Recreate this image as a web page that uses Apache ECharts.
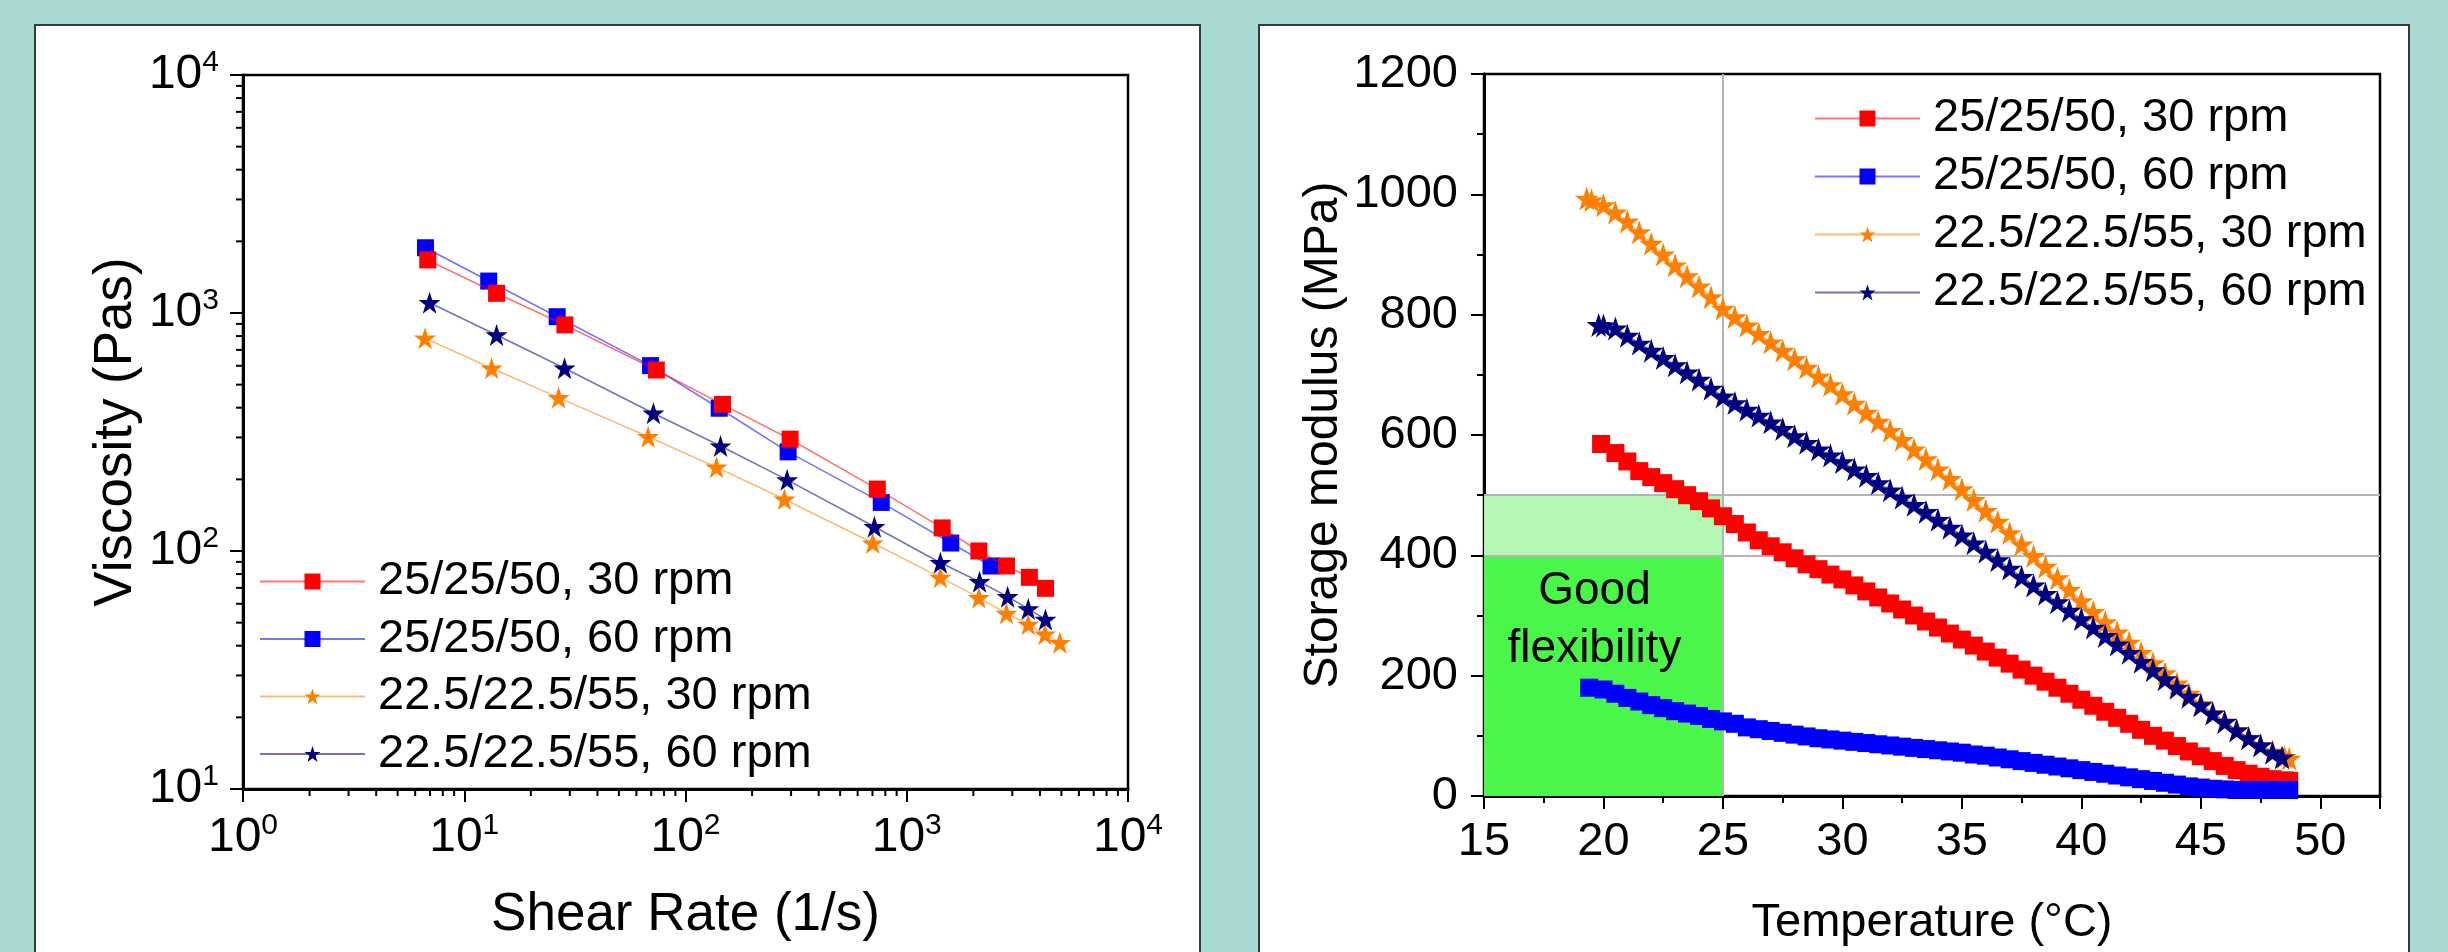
<!DOCTYPE html>
<html><head><meta charset="utf-8">
<script src="https://cdn.jsdelivr.net/npm/echarts@6/dist/echarts.min.js"></script>
<style>html,body{margin:0;padding:0;background:#a8dad3}#c{width:2448px;height:952px}</style>
</head><body><div id="c"></div>
<script>
const seriesNames = ['25/25/50, 30 rpm', '25/25/50, 60 rpm', '22.5/22.5/55, 30 rpm', '22.5/22.5/55, 60 rpm'];
const seriesColors = ['#ff0000', '#0000ff', '#ff8000', '#000080'];

// ---- Left chart: viscosity vs shear rate (log-log) ----
const shearRed  = [6.84, 14.0, 28.5, 73.8, 147, 297, 736, 1446, 2118, 2823, 3584, 4238];
const viscRed   = [1671, 1210, 891, 576, 413, 295, 182, 125, 100, 86.5, 77.5, 69.7];
const shearBlue = [6.68, 12.9, 26.3, 69.5, 142, 291, 767, 1581, 2404];
const viscBlue  = [1880, 1362, 965, 601, 398, 261, 160, 108, 86.5];
const shearOrange = [6.65, 13.3, 26.7, 67.8, 138, 280, 702, 1419, 2118, 2823, 3541, 4217, 4920];
const viscOrange  = [783, 586, 441, 302, 225, 165, 108, 77.5, 63.7, 54.7, 49.2, 44.7, 41.2];
const shearNavy = [6.97, 14.0, 28.4, 71.6, 144, 288, 714, 1419, 2133, 2857, 3541, 4238];
const viscNavy  = [1105, 809, 586, 379, 276, 199, 126.5, 89.3, 74.3, 64.3, 57.1, 51.6];

// minor tick values for the log axes
const minorMultipliers = [2, 3, 4, 5, 6, 7, 8, 9];
const xDecades = [1, 10, 100, 1000];
const yDecades = [10, 100, 1000];

// ---- Right chart: storage modulus vs temperature ----
const tempRed = [19.9,20.5,21,21.5,22,22.5,23,23.5,24,24.5,25,25.5,26,26.5,27,27.5,28,28.5,29,29.5,30,30.5,31,31.5,32,32.5,33,33.5,34,34.5,35,35.5,36,36.5,37,37.5,38,38.5,39,39.5,40,40.5,41,41.5,42,42.5,43,43.5,44,44.5,45,45.5,46,46.5,47,47.5,48,48.5,48.7];
const modRed  = [585,570,556,540,530,520,510,500,490,478,465,452,438,425,415,405,395,385,377,368,360,350,340,330,320,310,300,290,280,270,260,250,240,230,220,210,200,190,180,170,160,150,140,130,120,110,100,92,83,74,66,58,50,43,37,32,28,26,25];
const tempBlue = [19.4,20,20.5,21,21.5,22,22.5,23,23.5,24,24.5,25,25.5,26,26.5,27,27.5,28,28.5,29,29.5,30,30.5,31,31.5,32,32.5,33,33.5,34,34.5,35,35.5,36,36.5,37,37.5,38,38.5,39,39.5,40,40.5,41,41.5,42,42.5,43,43.5,44,44.5,45,45.5,46,46.5,47,47.5,48,48.7];
const modBlue  = [180,177,170,163,157,151,146,141,137,133,128,124,120,114,111,108,105,102,99,96,94,92,90,88,86,84,82,80,78,76,74,72,69,67,64,61,58,55,52,49,46,43,40,37,34,31,28,25,22,19,16,14,12,11,10,10,10,10,10];
const tempOrange = [19.3,19.5,20,20.5,21,21.5,22,22.5,23,23.5,24,24.5,25,25.5,26,26.5,27,27.5,28,28.5,29,29.5,30,30.5,31,31.5,32,32.5,33,33.5,34,34.5,35,35.5,36,36.5,37,37.5,38,38.5,39,39.5,40,40.5,41,41.5,42,42.5,43,43.5,44,44.5,45,45.5,46,46.5,47,47.5,48,48.5,48.7];
const modOrange  = [993,990,982,970,955,937,918,900,882,864,847,829,810,796,782,768,754,740,726,712,697,683,668,652,637,622,607,592,576,560,543,527,510,492,474,456,437,418,399,381,362,343,324,306,289,272,255,238,221,204,187,170,153,138,124,110,97,85,74,65,62];
const tempNavy = [19.8,20,20.5,21,21.5,22,22.5,23,23.5,24,24.5,25,25.5,26,26.5,27,27.5,28,28.5,29,29.5,30,30.5,31,31.5,32,32.5,33,33.5,34,34.5,35,35.5,36,36.5,37,37.5,38,38.5,39,39.5,40,40.5,41,41.5,42,42.5,43,43.5,44,44.5,45,45.5,46,46.5,47,47.5,48,48.4];
const modNavy  = [783,782,777,765,752,740,728,716,704,692,677,664,653,642,632,621,610,598,587,576,566,555,543,532,520,508,496,484,472,459,446,433,420,406,392,378,364,350,336,322,308,294,280,266,252,238,223,209,194,180,165,151,137,123,109,96,84,72,64];

// reference regions on the right chart
const goodZone = { xFrom: 15, xTo: 25, yFrom: 0, yTo: 400 };
const marginalZone = { xFrom: 15, xTo: 25, yFrom: 400, yTo: 500 };
const refLinesY = [400, 500];
const refLinesX = [25];

const F = 'Liberation Sans';
const STAR = 'path://M50,2 L61.8,38 L99,38 L69,60.5 L80.5,97 L50,74.5 L19.5,97 L31,60.5 L1,38 L38.2,38 Z';
const symbols = ['rect', 'rect', STAR, STAR];
const zip = (a, b) => a.map((v, i) => [v, b[i]]);

const leftData = [zip(shearRed, viscRed), zip(shearBlue, viscBlue), zip(shearOrange, viscOrange), zip(shearNavy, viscNavy)];
const rightData = [zip(tempRed, modRed), zip(tempBlue, modBlue), zip(tempOrange, modOrange), zip(tempNavy, modNavy)];

const xMinor = [];
xDecades.forEach(d => minorMultipliers.forEach(m => xMinor.push([d * m, 10])));
const yMinor = [];
yDecades.forEach(d => minorMultipliers.forEach(m => yMinor.push([1, d * m])));

const supRich = {
  s: { fontSize: 30, fontFamily: F, color: '#000', lineHeight: 30, verticalAlign: 'top' }
};
const logFormatter = v => '10{s|' + Math.round(Math.log10(v)) + '}';

const chart = echarts.init(document.getElementById('c'), null, { renderer: 'canvas' });

const series = [];
seriesNames.forEach((name, i) => {
  series.push({
    name, type: 'line', xAxisIndex: 0, yAxisIndex: 0, data: leftData[i],
    symbol: symbols[i], symbolSize: i < 2 ? 17 : 22, showAllSymbol: true,
    itemStyle: { color: seriesColors[i] },
    lineStyle: { color: seriesColors[i], width: 1.6, opacity: 0.55 },
    z: i === 0 ? 6 : 5
  });
});
seriesNames.forEach((name, i) => {
  series.push({
    name, type: 'line', xAxisIndex: 1, yAxisIndex: 1, data: rightData[i],
    symbol: symbols[i], symbolSize: i < 2 ? 18 : 24, showAllSymbol: true,
    itemStyle: { color: seriesColors[i] },
    lineStyle: { color: seriesColors[i], width: 1.6, opacity: 0.55 },
    z: 5
  });
});
// reference area/lines
series.push({
  type: 'line', xAxisIndex: 1, yAxisIndex: 1, data: [], z: 1, silent: true,
  markArea: {
    silent: true,
    data: [
      [{ xAxis: goodZone.xFrom, yAxis: goodZone.yFrom, itemStyle: { color: '#4af64a' },
         label: { show: true, position: 'inside', formatter: 'Good\nflexibility', fontSize: 46, lineHeight: 58, fontFamily: F, color: '#000', offset: [-9, -55] } },
       { xAxis: goodZone.xTo, yAxis: goodZone.yTo }],
      [{ xAxis: marginalZone.xFrom, yAxis: marginalZone.yFrom, itemStyle: { color: '#b3f7b3' } },
       { xAxis: marginalZone.xTo, yAxis: marginalZone.yTo }]
    ]
  },
  markLine: {
    silent: true, symbol: 'none', label: { show: false },
    lineStyle: { color: '#b4b4b4', width: 2, type: 'solid' },
    data: refLinesY.map(v => ({ yAxis: v })).concat(refLinesX.map(v => ({ xAxis: v })))
  }
});
// minor ticks on the log axes
const tickSeries = (data, horiz) => ({
  type: 'custom', xAxisIndex: 0, yAxisIndex: 0, data, clip: false, silent: true, z: 6,
  encode: { x: 0, y: 1 },
  renderItem: (params, api) => {
    const p = api.coord([api.value(0), api.value(1)]);
    return {
      type: 'line',
      shape: horiz ? { x1: p[0], y1: p[1], x2: p[0], y2: p[1] + 7 } : { x1: p[0] - 7, y1: p[1], x2: p[0], y2: p[1] },
      style: { stroke: '#000', lineWidth: 2 }
    };
  }
});
series.push(tickSeries(xMinor, true));
series.push(tickSeries(yMinor, false));

const legendCommon = {
  orient: 'vertical', data: seriesNames, itemWidth: 105, itemHeight: 20,
  textStyle: { fontSize: 47, fontFamily: F, color: '#000', lineHeight: 47, padding: [0, 0, 0, 8] },
  selectedMode: false, backgroundColor: '#ffffff'
};

const axisLineStyle = { show: true, lineStyle: { color: '#000', width: 3 } };

chart.setOption({
  animation: false,
  backgroundColor: '#a8dad3',
  textStyle: { fontFamily: F },
  graphic: [
    { type: 'rect', shape: { x: 35, y: 25, width: 1165, height: 940 }, style: { fill: '#fff', stroke: '#3a3a3a', lineWidth: 2 }, z: -10 },
    { type: 'rect', shape: { x: 1259, y: 25, width: 1150, height: 940 }, style: { fill: '#fff', stroke: '#3a3a3a', lineWidth: 2 }, z: -10 }
  ],
  legend: [
    Object.assign({}, legendCommon, { left: 254, top: 553, itemGap: 10.5 }),
    Object.assign({}, legendCommon, { left: 1809, top: 90, itemGap: 11 })
  ],
  grid: [
    { left: 243, top: 75, width: 885, height: 714, show: true, borderColor: '#000', borderWidth: 2.5, outerBoundsMode: 'none' },
    { left: 1484, top: 74, width: 896, height: 722, show: true, borderColor: '#000', borderWidth: 2.5, outerBoundsMode: 'none' }
  ],
  xAxis: [
    {
      type: 'log', logBase: 10, min: 1, max: 10000, gridIndex: 0, splitNumber: 4,
      axisLine: axisLineStyle, splitLine: { show: false },
      axisTick: { show: true, inside: false, length: 13, lineStyle: { width: 2, color: '#000' } },
      axisLabel: { margin: 22, fontSize: 48, lineHeight: 54, fontFamily: F, color: '#000', formatter: logFormatter, rich: supRich },
      name: 'Shear Rate (1/s)', nameLocation: 'middle', nameGap: 100, nameMoveOverlap: false,
      nameTextStyle: { fontSize: 53, fontFamily: F, color: '#000' }
    },
    {
      type: 'value', min: 15, max: 52.5, interval: 5, gridIndex: 1,
      axisLine: axisLineStyle, splitLine: { show: false },
      axisTick: { show: true, inside: false, length: 13, lineStyle: { width: 2, color: '#000' } },
      minorTick: { show: true, splitNumber: 2, length: 7, lineStyle: { width: 2, color: '#000' } },
      axisLabel: { margin: 23, fontSize: 47, fontFamily: F, color: '#000', showMaxLabel: false, formatter: v => String(v) },
      name: 'Temperature (°C)', nameLocation: 'middle', nameGap: 104, nameMoveOverlap: false,
      nameTextStyle: { fontSize: 47, fontFamily: F, color: '#000' }
    }
  ],
  yAxis: [
    {
      type: 'log', logBase: 10, min: 10, max: 10000, gridIndex: 0, splitNumber: 3,
      axisLine: axisLineStyle, splitLine: { show: false },
      axisTick: { show: true, inside: false, length: 13, lineStyle: { width: 2, color: '#000' } },
      axisLabel: { margin: 24, fontSize: 48, lineHeight: 54, fontFamily: F, color: '#000', formatter: logFormatter, rich: supRich },
      name: 'Viscosity (Pas)', nameLocation: 'middle', nameGap: 100, nameMoveOverlap: false,
      nameTextStyle: { fontSize: 53, fontFamily: F, color: '#000' }
    },
    {
      type: 'value', min: 0, max: 1200, interval: 200, gridIndex: 1,
      axisLine: axisLineStyle, splitLine: { show: false },
      axisTick: { show: true, inside: false, length: 13, lineStyle: { width: 2, color: '#000' } },
      minorTick: { show: true, splitNumber: 2, length: 7, lineStyle: { width: 2, color: '#000' } },
      axisLabel: { margin: 26, fontSize: 47, fontFamily: F, color: '#000', formatter: v => String(v) },
      name: 'Storage modulus (MPa)', nameLocation: 'middle', nameGap: 136, nameMoveOverlap: false,
      nameTextStyle: { fontSize: 48, fontFamily: F, color: '#000' }
    }
  ],
  series
});
</script></body></html>
